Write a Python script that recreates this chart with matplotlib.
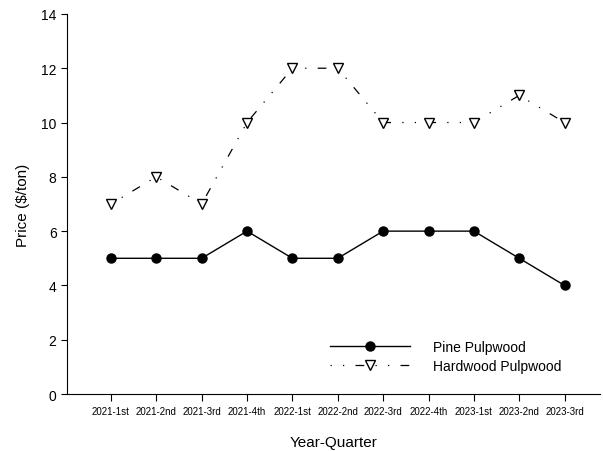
import numpy as np
import matplotlib.pyplot as plt

plt.rcParams['font.family'] = ['Liberation Sans', 'DejaVu Sans']

quarters = ["2021-1st", "2021-2nd", "2021-3rd", "2021-4th", "2022-1st", "2022-2nd",
            "2022-3rd", "2022-4th", "2023-1st", "2023-2nd", "2023-3rd"]
pine = [5, 5, 5, 6, 5, 5, 6, 6, 6, 5, 4]
hardwood = [7, 8, 7, 10, 12, 12, 10, 10, 10, 11, 10]

x = np.arange(len(quarters))

fig = plt.figure(figsize=(6.03, 4.52), dpi=100)
ax = fig.add_axes([0.111, 0.126, 0.884, 0.841])

ax.plot(x, pine, color="black", linewidth=1, marker="o", markersize=6.5,
        label="Pine Pulpwood")
ax.plot(x, hardwood, color="black", linewidth=0.9,
        linestyle=(0, (1, 9, 1, 9, 7, 9)),
        marker="v", markersize=7, markerfacecolor="white", markeredgecolor="black",
        markeredgewidth=1, label="Hardwood Pulpwood")

ax.set_xlim(-0.97, 10.78)
ax.set_ylim(0, 14)
ax.set_xticks(x)
ax.set_xticklabels(quarters, fontsize=7)
ax.set_yticks(range(0, 15, 2))
ax.tick_params(axis="y", labelsize=10, length=4, direction="out")
ax.tick_params(axis="x", length=5, direction="out")
ax.spines["top"].set_visible(False)
ax.spines["right"].set_visible(False)

ax.set_xlabel("Year-Quarter", fontsize=11, labelpad=14)
ax.set_ylabel("Price ($/ton)", fontsize=11, labelpad=8)

ax.legend(loc="lower left", bbox_to_anchor=(0.493, 0.055), frameon=False,
          fontsize=10, handlelength=5.8, handletextpad=1.6, borderpad=0,
          borderaxespad=0, labelspacing=0.4)

fig.savefig("out.png", dpi=100)
